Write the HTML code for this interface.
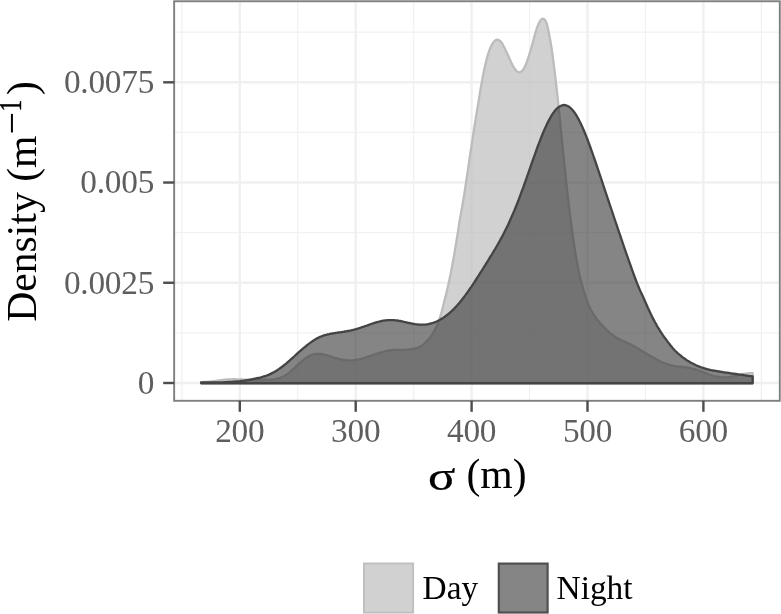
<!DOCTYPE html>
<html><head><meta charset="utf-8"><title>Density</title>
<style>
html,body{margin:0;padding:0;background:#fff;}
svg{display:block;}
text{font-family:"Liberation Serif",serif;}
.tick{font-size:33.33px;fill:#5e5e5e;letter-spacing:-0.25px;}
.title{font-size:41.67px;fill:#000;}
.leg{font-size:33.33px;fill:#000;}
</style></head><body>
<svg width="781" height="614" viewBox="0 0 781 614">
<rect x="0" y="0" width="781" height="614" fill="#fff"/>
<g><line x1="181.85" x2="181.85" y1="1.25" y2="400.8" stroke="#f1f1f1" stroke-width="1.25"/><line x1="297.75" x2="297.75" y1="1.25" y2="400.8" stroke="#f1f1f1" stroke-width="1.25"/><line x1="413.65" x2="413.65" y1="1.25" y2="400.8" stroke="#f1f1f1" stroke-width="1.25"/><line x1="529.55" x2="529.55" y1="1.25" y2="400.8" stroke="#f1f1f1" stroke-width="1.25"/><line x1="645.45" x2="645.45" y1="1.25" y2="400.8" stroke="#f1f1f1" stroke-width="1.25"/><line x1="761.35" x2="761.35" y1="1.25" y2="400.8" stroke="#f1f1f1" stroke-width="1.25"/><line y1="332.88" y2="332.88" x1="174.15" x2="779.8" stroke="#f1f1f1" stroke-width="1.25"/><line y1="232.66" y2="232.66" x1="174.15" x2="779.8" stroke="#f1f1f1" stroke-width="1.25"/><line y1="132.42" y2="132.42" x1="174.15" x2="779.8" stroke="#f1f1f1" stroke-width="1.25"/><line y1="32.19" y2="32.19" x1="174.15" x2="779.8" stroke="#f1f1f1" stroke-width="1.25"/><line x1="239.80" x2="239.80" y1="1.25" y2="400.8" stroke="#f0f0f0" stroke-width="2.4"/><line x1="355.70" x2="355.70" y1="1.25" y2="400.8" stroke="#f0f0f0" stroke-width="2.4"/><line x1="471.60" x2="471.60" y1="1.25" y2="400.8" stroke="#f0f0f0" stroke-width="2.4"/><line x1="587.50" x2="587.50" y1="1.25" y2="400.8" stroke="#f0f0f0" stroke-width="2.4"/><line x1="703.40" x2="703.40" y1="1.25" y2="400.8" stroke="#f0f0f0" stroke-width="2.4"/><line y1="383.00" y2="383.00" x1="174.15" x2="779.8" stroke="#f0f0f0" stroke-width="2.4"/><line y1="282.77" y2="282.77" x1="174.15" x2="779.8" stroke="#f0f0f0" stroke-width="2.4"/><line y1="182.54" y2="182.54" x1="174.15" x2="779.8" stroke="#f0f0f0" stroke-width="2.4"/><line y1="82.31" y2="82.31" x1="174.15" x2="779.8" stroke="#f0f0f0" stroke-width="2.4"/></g>
<path d="M201.1,383.25 L201.1,382.3 202.1,382.2 203.1,382.1 204.1,382.0 205.1,381.9 206.1,381.9 207.1,381.8 208.1,381.7 209.1,381.7 210.1,381.6 211.1,381.5 212.1,381.4 213.1,381.3 214.1,381.1 215.1,381.0 216.1,380.8 217.1,380.7 218.1,380.5 219.1,380.4 220.1,380.3 221.1,380.1 222.1,380.0 223.1,379.9 224.1,379.8 225.1,379.7 226.1,379.6 227.1,379.5 228.1,379.4 229.1,379.4 230.1,379.3 231.1,379.3 232.1,379.3 233.1,379.2 234.1,379.2 235.1,379.2 236.1,379.3 237.1,379.3 238.1,379.3 239.1,379.4 240.1,379.4 241.1,379.4 242.1,379.5 243.1,379.6 244.1,379.6 245.1,379.7 246.1,379.7 247.1,379.8 248.1,379.8 249.1,379.8 250.1,379.8 251.1,379.9 252.1,379.9 253.1,379.8 254.1,379.8 255.1,379.8 256.1,379.8 257.1,379.8 258.1,379.7 259.1,379.7 260.1,379.7 261.1,379.7 262.1,379.6 263.1,379.6 264.1,379.6 265.1,379.7 266.1,379.7 267.1,379.7 268.1,379.8 269.1,379.8 270.1,379.8 271.1,379.7 272.1,379.6 273.1,379.5 274.1,379.3 275.1,379.2 276.1,379.0 277.1,378.7 278.1,378.4 279.1,378.1 280.1,377.8 281.1,377.4 282.1,377.0 283.1,376.5 284.1,376.0 285.1,375.4 286.1,374.8 287.1,374.1 288.1,373.4 289.1,372.6 290.1,371.8 291.1,371.0 292.1,370.1 293.1,369.2 294.1,368.3 295.1,367.4 296.1,366.4 297.1,365.5 298.1,364.6 299.1,363.6 300.1,362.7 301.1,361.8 302.1,361.0 303.1,360.1 304.1,359.4 305.1,358.6 306.1,357.9 307.1,357.3 308.1,356.7 309.1,356.1 310.1,355.6 311.1,355.2 312.1,354.8 313.1,354.5 314.1,354.3 315.1,354.1 316.1,354.0 317.1,353.9 318.1,353.9 319.1,353.9 320.1,354.0 321.1,354.1 322.1,354.2 323.1,354.4 324.1,354.6 325.1,354.9 326.1,355.1 327.1,355.4 328.1,355.7 329.1,356.0 330.1,356.3 331.1,356.6 332.1,356.9 333.1,357.2 334.1,357.6 335.1,357.9 336.1,358.1 337.1,358.4 338.1,358.7 339.1,359.0 340.1,359.2 341.1,359.4 342.1,359.6 343.1,359.8 344.1,360.0 345.1,360.1 346.1,360.2 347.1,360.3 348.1,360.4 349.1,360.4 350.1,360.4 351.1,360.4 352.1,360.3 353.1,360.3 354.1,360.2 355.1,360.0 356.1,359.9 357.1,359.7 358.1,359.5 359.1,359.3 360.1,359.1 361.1,358.8 362.1,358.6 363.1,358.3 364.1,358.0 365.1,357.7 366.1,357.4 367.1,357.0 368.1,356.7 369.1,356.4 370.1,356.0 371.1,355.7 372.1,355.3 373.1,355.0 374.1,354.6 375.1,354.3 376.1,353.9 377.1,353.6 378.1,353.3 379.1,353.0 380.1,352.7 381.1,352.4 382.1,352.1 383.1,351.8 384.1,351.6 385.1,351.3 386.1,351.1 387.1,350.9 388.1,350.7 389.1,350.5 390.1,350.4 391.1,350.2 392.1,350.1 393.1,350.0 394.1,349.9 395.1,349.9 396.1,349.8 397.1,349.8 398.1,349.8 399.1,349.8 400.1,349.8 401.1,349.8 402.1,349.8 403.1,349.8 404.1,349.8 405.1,349.8 406.1,349.7 407.1,349.7 408.1,349.6 409.1,349.5 410.1,349.3 411.1,349.2 412.1,349.0 413.1,348.8 414.1,348.6 415.1,348.4 416.1,348.1 417.1,347.8 418.1,347.5 419.1,347.1 420.1,346.6 421.1,346.0 422.1,345.4 423.1,344.7 424.1,343.9 425.1,342.9 426.1,341.9 427.3,340.5 428.7,339.0 430.1,337.4 431.3,335.7 432.5,333.8 433.7,331.8 434.8,329.8 435.9,327.7 436.9,325.7 437.8,323.7 438.6,321.5 439.4,319.2 440.2,316.7 441.0,314.1 441.8,311.2 442.6,308.2 443.4,305.0 444.2,301.6 445.1,298.0 446.1,294.2 447.1,290.1 448.1,285.8 449.1,281.3 450.1,276.5 451.1,271.5 452.1,266.3 453.1,260.8 454.1,255.2 455.1,249.3 456.1,243.3 457.1,237.1 458.1,230.7 459.1,224.2 460.2,217.6 461.4,210.9 462.6,204.0 463.8,197.2 464.9,190.2 465.9,183.3 467.0,176.3 468.0,169.4 469.0,162.5 470.0,155.6 471.1,148.8 472.1,142.1 473.1,135.5 474.1,129.0 475.1,122.6 476.1,116.4 477.1,110.3 478.1,104.4 479.0,98.7 479.9,93.2 480.8,87.8 481.7,82.7 482.6,77.8 483.5,73.2 484.4,68.8 485.3,64.7 486.2,60.9 487.1,57.3 488.1,54.1 489.1,51.1 490.1,48.5 491.1,46.2 492.1,44.3 493.1,42.7 494.1,41.4 495.1,40.5 496.1,39.9 497.1,39.7 498.1,39.8 499.1,40.2 500.1,40.9 501.1,42.0 502.1,43.4 503.1,45.2 504.1,47.1 505.1,49.2 506.1,51.3 507.1,53.4 508.1,55.6 509.1,57.8 510.1,60.0 511.1,62.2 512.1,64.2 513.1,66.1 514.1,67.8 515.1,69.3 516.1,70.5 517.1,71.4 518.1,72.0 519.1,72.3 520.1,72.2 521.1,71.7 522.1,70.9 523.1,69.7 524.1,68.1 525.1,66.1 526.1,63.8 527.1,61.2 528.1,58.4 529.1,55.2 530.1,52.0 531.1,48.5 532.1,45.0 533.1,41.3 534.1,37.5 535.1,34.0 536.1,30.6 537.1,27.6 538.1,25.0 539.1,22.7 540.1,20.9 541.1,19.6 542.1,18.8 543.1,18.7 544.1,19.1 545.1,20.2 546.1,22.0 547.0,24.5 547.8,27.7 548.6,31.7 549.5,36.3 550.5,41.7 551.5,47.7 552.5,54.4 553.4,61.6 554.4,69.4 555.4,77.7 556.4,86.5 557.4,95.6 558.4,105.1 559.4,114.8 560.4,124.7 561.4,134.8 562.4,144.8 563.4,154.9 564.4,164.9 565.5,174.7 566.5,184.4 567.5,193.8 568.6,202.9 569.6,211.7 570.7,220.1 571.7,228.2 572.8,235.8 573.8,243.0 574.8,249.8 575.9,256.1 576.9,262.0 578.0,267.4 579.0,272.4 580.0,277.1 581.1,281.3 582.1,285.2 583.1,288.8 584.1,292.0 585.0,294.9 585.9,297.6 586.8,300.1 587.6,302.3 588.3,304.4 589.2,306.3 590.0,308.1 590.9,309.8 591.8,311.4 592.8,313.0 593.7,314.5 594.6,316.0 595.6,317.4 596.6,318.8 597.7,320.2 598.9,321.6 600.1,323.0 601.4,324.4 602.7,325.7 603.9,327.0 605.0,328.1 606.1,329.2 607.1,330.3 608.1,331.2 609.1,332.2 610.1,333.1 611.1,333.9 612.1,334.7 613.1,335.4 614.1,336.2 615.1,336.8 616.1,337.4 617.1,338.0 618.1,338.6 619.1,339.1 620.1,339.6 621.1,340.1 622.1,340.5 623.1,341.0 624.1,341.4 625.1,341.9 626.1,342.3 627.1,342.7 628.1,343.2 629.1,343.7 630.1,344.1 631.1,344.6 632.1,345.2 633.1,345.7 634.1,346.2 635.1,346.8 636.1,347.4 637.1,348.0 638.1,348.6 639.1,349.2 640.1,349.8 641.1,350.4 642.1,351.0 643.1,351.6 644.1,352.2 645.1,352.8 646.1,353.4 647.1,354.0 648.1,354.6 649.1,355.2 650.1,355.8 651.1,356.4 652.1,356.9 653.1,357.5 654.1,358.1 655.1,358.6 656.1,359.2 657.1,359.7 658.1,360.2 659.1,360.7 660.1,361.2 661.1,361.7 662.1,362.1 663.1,362.6 664.1,363.0 665.1,363.4 666.1,363.7 667.1,364.1 668.1,364.4 669.1,364.7 670.1,365.0 671.1,365.3 672.1,365.5 673.1,365.7 674.1,365.9 675.1,366.1 676.1,366.3 677.1,366.4 678.1,366.5 679.1,366.6 680.1,366.7 681.1,366.8 682.1,366.9 683.1,367.0 684.1,367.2 685.1,367.3 686.1,367.4 687.1,367.6 688.1,367.7 689.1,367.9 690.1,368.1 691.1,368.3 692.1,368.6 693.1,368.8 694.1,369.1 695.1,369.4 696.1,369.7 697.1,370.0 698.1,370.3 699.1,370.6 700.1,371.0 701.1,371.3 702.1,371.7 703.1,372.1 704.1,372.5 705.1,372.9 706.1,373.3 707.1,373.7 708.1,374.1 709.1,374.5 710.1,374.9 711.1,375.2 712.1,375.5 713.1,375.8 714.1,376.1 715.1,376.3 716.1,376.5 717.1,376.7 718.1,376.9 719.1,377.0 720.1,377.2 721.1,377.3 722.1,377.3 723.1,377.4 724.1,377.4 725.1,377.4 726.1,377.3 727.1,377.2 728.1,377.1 729.1,377.0 730.1,376.8 731.1,376.7 732.1,376.5 733.1,376.3 734.1,376.1 735.1,375.8 736.1,375.6 737.1,375.3 738.1,375.1 739.1,374.8 740.1,374.6 741.1,374.4 742.1,374.2 743.1,374.0 744.1,373.8 745.1,373.6 746.1,373.5 747.1,373.4 748.1,373.3 749.1,373.2 750.1,373.2 751.1,373.2 752.1,373.2 752.7,373.2 L752.7,383.25 Z" fill="#bdbdbd" fill-opacity="0.7" stroke="#bcbcbc" stroke-width="2.3" stroke-linejoin="round"/>
<path d="M201.1,383.25 L201.1,382.4 202.1,382.4 203.1,382.4 204.1,382.4 205.1,382.5 206.1,382.5 207.1,382.5 208.1,382.5 209.1,382.5 210.1,382.5 211.1,382.5 212.1,382.5 213.1,382.5 214.1,382.5 215.1,382.5 216.1,382.5 217.1,382.5 218.1,382.4 219.1,382.4 220.1,382.4 221.1,382.4 222.1,382.3 223.1,382.3 224.1,382.2 225.1,382.2 226.1,382.1 227.1,382.1 228.1,382.0 229.1,381.9 230.1,381.9 231.1,381.8 232.1,381.8 233.1,381.7 234.1,381.6 235.1,381.6 236.1,381.5 237.1,381.4 238.1,381.3 239.1,381.3 240.1,381.2 241.1,381.0 242.1,380.9 243.1,380.8 244.1,380.7 245.1,380.5 246.1,380.4 247.1,380.2 248.1,380.0 249.1,379.9 250.1,379.7 251.1,379.5 252.1,379.3 253.1,379.0 254.1,378.8 255.1,378.6 256.1,378.4 257.1,378.2 258.1,378.0 259.1,377.8 260.1,377.6 261.1,377.3 262.1,377.0 263.1,376.7 264.1,376.4 265.1,376.1 266.1,375.8 267.1,375.4 268.1,375.0 269.1,374.6 270.1,374.1 271.1,373.6 272.1,373.1 273.1,372.6 274.1,372.1 275.1,371.5 276.1,370.9 277.1,370.3 278.1,369.6 279.1,368.9 280.1,368.2 281.1,367.5 282.1,366.8 283.1,366.0 284.1,365.2 285.1,364.4 286.1,363.6 287.1,362.7 288.1,361.8 289.1,361.0 290.1,360.1 291.1,359.2 292.1,358.3 293.1,357.4 294.1,356.5 295.1,355.5 296.1,354.6 297.1,353.7 298.1,352.8 299.1,351.9 300.1,351.0 301.1,350.2 302.1,349.3 303.1,348.4 304.1,347.6 305.1,346.8 306.1,346.0 307.1,345.2 308.1,344.4 309.1,343.6 310.1,342.9 311.1,342.1 312.1,341.4 313.1,340.8 314.1,340.1 315.1,339.5 316.1,338.9 317.1,338.4 318.1,337.8 319.1,337.4 320.1,336.9 321.1,336.5 322.1,336.1 323.1,335.7 324.1,335.4 325.1,335.1 326.1,334.8 327.1,334.5 328.1,334.3 329.1,334.1 330.1,333.8 331.1,333.6 332.1,333.5 333.1,333.3 334.1,333.1 335.1,333.0 336.1,332.8 337.1,332.7 338.1,332.5 339.1,332.4 340.1,332.3 341.1,332.1 342.1,332.0 343.1,331.8 344.1,331.7 345.1,331.5 346.1,331.4 347.1,331.2 348.1,331.0 349.1,330.8 350.1,330.6 351.1,330.4 352.1,330.1 353.1,329.9 354.1,329.6 355.1,329.4 356.1,329.1 357.1,328.8 358.1,328.5 359.1,328.2 360.1,327.9 361.1,327.5 362.1,327.2 363.1,326.9 364.1,326.5 365.1,326.2 366.1,325.8 367.1,325.5 368.1,325.1 369.1,324.7 370.1,324.4 371.1,324.0 372.1,323.7 373.1,323.4 374.1,323.0 375.1,322.7 376.1,322.4 377.1,322.1 378.1,321.8 379.1,321.6 380.1,321.3 381.1,321.1 382.1,320.9 383.1,320.7 384.1,320.6 385.1,320.4 386.1,320.3 387.1,320.2 388.1,320.1 389.1,320.1 390.1,320.1 391.1,320.1 392.1,320.1 393.1,320.1 394.1,320.2 395.1,320.3 396.1,320.4 397.1,320.5 398.1,320.7 399.1,320.9 400.1,321.0 401.1,321.2 402.1,321.4 403.1,321.6 404.1,321.9 405.1,322.1 406.1,322.3 407.1,322.5 408.1,322.8 409.1,323.0 410.1,323.2 411.1,323.4 412.1,323.6 413.1,323.8 414.1,324.0 415.1,324.2 416.1,324.3 417.1,324.4 418.1,324.5 419.1,324.6 420.1,324.7 421.1,324.7 422.1,324.7 423.1,324.7 424.1,324.6 425.1,324.6 426.1,324.5 427.1,324.3 428.1,324.2 429.1,324.0 430.1,323.7 431.1,323.5 432.1,323.2 433.1,322.9 434.1,322.5 435.1,322.1 436.1,321.7 437.1,321.2 438.1,320.8 439.1,320.2 440.1,319.7 441.1,319.1 442.1,318.5 443.1,317.9 444.1,317.2 445.1,316.5 446.1,315.7 447.1,315.0 448.1,314.2 449.1,313.3 450.1,312.5 451.1,311.6 452.1,310.6 453.1,309.7 454.1,308.7 455.1,307.6 456.1,306.6 457.1,305.5 458.1,304.3 459.1,303.2 460.1,302.0 461.1,300.8 462.1,299.5 463.1,298.2 464.1,296.9 465.1,295.6 466.1,294.2 467.1,292.8 468.1,291.4 469.1,290.0 470.1,288.5 471.1,287.1 472.1,285.6 473.1,284.1 474.1,282.6 475.1,281.0 476.1,279.5 477.1,278.0 478.1,276.4 479.1,274.8 480.1,273.2 481.1,271.7 482.1,270.1 483.1,268.5 484.1,266.9 485.1,265.3 486.1,263.7 487.1,262.1 488.1,260.5 489.1,258.9 490.1,257.2 491.1,255.6 492.1,254.0 493.1,252.3 494.1,250.6 495.1,249.0 496.1,247.3 497.1,245.5 498.1,243.8 499.1,242.0 500.1,240.2 501.1,238.4 502.1,236.6 503.1,234.7 504.1,232.8 505.1,230.8 506.1,228.8 507.1,226.7 508.1,224.7 509.1,222.5 510.1,220.3 511.1,218.1 512.1,215.8 513.1,213.5 514.1,211.1 515.1,208.7 516.1,206.2 517.1,203.7 518.1,201.2 519.1,198.6 520.1,195.9 521.1,193.2 522.1,190.5 523.1,187.8 524.1,185.0 525.1,182.2 526.1,179.4 527.1,176.5 528.1,173.7 529.1,170.8 530.1,168.0 531.1,165.1 532.1,162.2 533.1,159.4 534.1,156.6 535.1,153.8 536.1,151.0 537.1,148.2 538.1,145.5 539.1,142.9 540.1,140.3 541.1,137.7 542.1,135.2 543.1,132.8 544.1,130.4 545.1,128.1 546.1,125.9 547.1,123.8 548.1,121.8 549.1,119.9 550.1,118.1 551.1,116.3 552.1,114.7 553.1,113.2 554.1,111.8 555.1,110.6 556.1,109.4 557.1,108.4 558.1,107.5 559.1,106.8 560.1,106.2 561.1,105.7 562.1,105.3 563.1,105.1 564.1,105.0 565.1,105.1 566.1,105.3 567.1,105.7 568.1,106.2 569.1,106.8 570.1,107.6 571.1,108.5 572.1,109.5 573.1,110.7 574.1,111.9 575.1,113.4 576.1,114.9 577.1,116.6 578.1,118.3 579.1,120.2 580.1,122.2 581.1,124.3 582.1,126.4 583.1,128.7 584.1,131.0 585.1,133.5 586.1,135.9 587.1,138.5 588.1,141.1 589.1,143.8 590.1,146.5 591.1,149.3 592.1,152.1 593.1,155.0 594.1,157.8 595.1,160.7 596.1,163.7 597.1,166.6 598.1,169.6 599.1,172.6 600.1,175.6 601.1,178.5 602.1,181.5 603.1,184.5 604.1,187.6 605.1,190.6 606.1,193.6 607.1,196.6 608.1,199.6 609.1,202.6 610.1,205.6 611.1,208.5 612.1,211.5 613.1,214.5 614.1,217.5 615.1,220.5 616.1,223.4 617.1,226.4 618.1,229.3 619.1,232.3 620.1,235.2 621.1,238.2 622.1,241.1 623.1,244.0 624.1,247.0 625.1,249.9 626.1,252.8 627.1,255.6 628.1,258.5 629.1,261.4 630.1,264.2 631.1,267.0 632.1,269.8 633.1,272.6 634.1,275.3 635.1,278.0 636.1,280.7 637.1,283.4 638.2,286.0 639.3,288.6 640.4,291.1 641.6,293.7 642.7,296.1 643.8,298.5 644.9,300.9 645.9,303.2 646.9,305.5 647.9,307.8 648.9,309.9 649.9,312.1 650.9,314.2 651.9,316.2 652.9,318.2 653.9,320.1 654.9,322.0 655.9,323.8 656.9,325.6 657.9,327.3 658.9,328.9 659.9,330.6 660.9,332.1 661.9,333.7 662.9,335.2 663.9,336.6 664.9,338.0 665.9,339.3 666.9,340.6 667.8,341.9 668.7,343.1 669.7,344.3 670.6,345.5 671.5,346.6 672.4,347.7 673.3,348.7 674.2,349.7 675.1,350.7 676.1,351.7 677.1,352.6 678.1,353.5 679.1,354.4 680.1,355.2 681.1,356.0 682.1,356.8 683.1,357.6 684.1,358.3 685.1,359.0 686.1,359.7 687.1,360.4 688.1,361.0 689.1,361.6 690.1,362.2 691.1,362.8 692.1,363.3 693.1,363.8 694.1,364.3 695.1,364.8 696.1,365.3 697.1,365.7 698.1,366.1 699.1,366.5 700.1,366.9 701.1,367.3 702.1,367.6 703.1,367.9 704.1,368.3 705.1,368.5 706.1,368.8 707.1,369.1 708.1,369.4 709.1,369.6 710.1,369.8 711.1,370.1 712.1,370.3 713.1,370.5 714.1,370.7 715.1,370.9 716.1,371.0 717.1,371.2 718.1,371.4 719.1,371.5 720.1,371.7 721.1,371.9 722.1,372.0 723.1,372.2 724.1,372.3 725.1,372.5 726.1,372.6 727.1,372.7 728.1,372.9 729.1,373.0 730.1,373.2 731.1,373.3 732.1,373.5 733.1,373.6 734.1,373.7 735.1,373.9 736.1,374.0 737.1,374.2 738.1,374.3 739.1,374.5 740.1,374.6 741.1,374.7 742.1,374.9 743.1,375.0 744.1,375.2 745.1,375.3 746.1,375.5 747.1,375.6 748.1,375.8 749.1,375.9 750.1,376.1 751.1,376.2 752.1,376.4 752.7,376.5 L752.7,383.25 Z" fill="#333333" fill-opacity="0.6" stroke="#444444" stroke-width="2.3" stroke-linejoin="round"/>
<rect x="174.15" y="1.25" width="605.65" height="399.55" fill="none" stroke="#7f7f7f" stroke-width="1.9"/>
<g><line x1="239.80" x2="239.80" y1="400.8" y2="411.8" stroke="#4d4d4d" stroke-width="2.4"/><line x1="355.70" x2="355.70" y1="400.8" y2="411.8" stroke="#4d4d4d" stroke-width="2.4"/><line x1="471.60" x2="471.60" y1="400.8" y2="411.8" stroke="#4d4d4d" stroke-width="2.4"/><line x1="587.50" x2="587.50" y1="400.8" y2="411.8" stroke="#4d4d4d" stroke-width="2.4"/><line x1="703.40" x2="703.40" y1="400.8" y2="411.8" stroke="#4d4d4d" stroke-width="2.4"/><line y1="383.00" y2="383.00" x1="163.2" x2="174.15" stroke="#4d4d4d" stroke-width="2.4"/><line y1="282.77" y2="282.77" x1="163.2" x2="174.15" stroke="#4d4d4d" stroke-width="2.4"/><line y1="182.54" y2="182.54" x1="163.2" x2="174.15" stroke="#4d4d4d" stroke-width="2.4"/><line y1="82.31" y2="82.31" x1="163.2" x2="174.15" stroke="#4d4d4d" stroke-width="2.4"/></g>
<text x="239.8" y="441.7" text-anchor="middle" class="tick">200</text><text x="355.7" y="441.7" text-anchor="middle" class="tick">300</text><text x="471.6" y="441.7" text-anchor="middle" class="tick">400</text><text x="587.5" y="441.7" text-anchor="middle" class="tick">500</text><text x="703.4" y="441.7" text-anchor="middle" class="tick">600</text>
<text x="154.1" y="393.8" text-anchor="end" class="tick">0</text><text x="154.1" y="293.6" text-anchor="end" class="tick">0.0025</text><text x="154.1" y="193.3" text-anchor="end" class="tick">0.005</text><text x="154.1" y="93.1" text-anchor="end" class="tick">0.0075</text>
<text transform="translate(427.97,490.0) scale(1.22,1)" class="title" stroke="#000" stroke-width="0.25">σ</text>
<text x="466.5" y="488.4" class="title">(m)</text>
<g transform="rotate(-90)">
<text x="-321.8" y="35.9" class="title">Density (m</text>
<text x="-134.6" y="25.3" class="title" style="font-size:40px">−</text>
<text transform="translate(-111.4,20.5) scale(0.76,1)" class="title" style="font-size:31px" stroke="#000" stroke-width="0.4">1</text>
<text x="-95.1" y="35.9" class="title">)</text>
</g>
<rect x="364" y="563.5" width="49.1" height="49.1" fill="#d1d1d1" stroke="#c0c0c0" stroke-width="2"/>
<text x="422.6" y="598.7" class="leg">Day</text>
<rect x="498.8" y="563.6" width="48.8" height="48.9" fill="#858585" stroke="#505050" stroke-width="2.2"/>
<text x="556.6" y="598.7" class="leg">Night</text>
</svg>
</body></html>
